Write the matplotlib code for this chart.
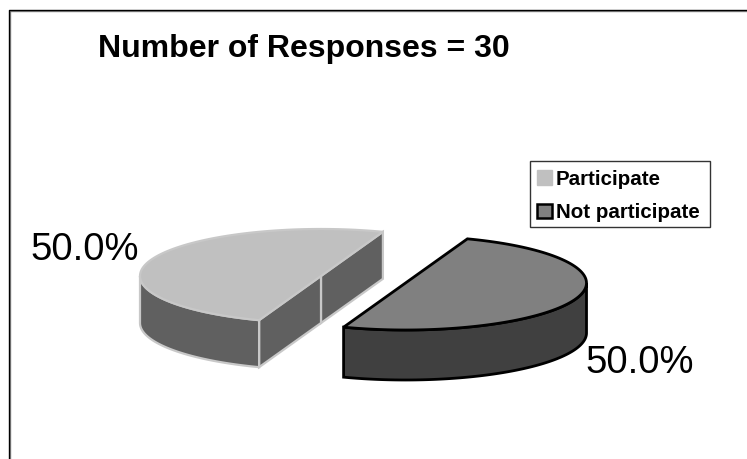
import numpy as np
import matplotlib
matplotlib.use("Agg")
import matplotlib.pyplot as plt
from matplotlib.patches import Polygon, Rectangle

plt.rcParams["font.family"] = ["Liberation Sans", "DejaVu Sans"]

labels = ["Participate", "Not participate"]
values = [15, 15]
title = "Number of Responses = 30"

top_colors = ["#c0c0c0", "#808080"]
side_colors = ["#606060", "#404040"]
edge_colors = ["#c8c8c8", "#000000"]
line_widths = [1.6, 2.0]
centers = [(321, 276), (405.5, 283)]
depths = [47, 50]
rx, ry = 181, 47

fig = plt.figure(figsize=(7.47, 4.59), dpi=100)
ax = fig.add_axes([0, 0, 1, 1])
ax.set_xlim(0, 747)
ax.set_ylim(459, 0)
ax.axis("off")

# рамка: только слева и сверху, снизу и справа она обрезана
ax.plot([9.5, 9.5, 747], [459, 10.5, 10.5], color="#888888", lw=1)
ax.plot([8.5, 8.5, 747], [459, 9.5, 9.5], color="black", lw=1)


def arc(cx, cy, a0, a1, n=100):
    t = np.radians(np.linspace(a0, a1, n))
    return np.column_stack([cx + rx * np.cos(t), cy - ry * np.sin(t)])


def draw_slice(cx, cy, a0, sweep, depth, top, side, edge, lw):
    a1 = a0 + sweep
    rim = arc(cx, cy, a0, a1)
    down = np.array([0, depth])
    mid = np.array([cx, cy])
    if a0 < 90:
        # левый кусок: срез виден, он идет от центра к обоим концам
        for p in (rim[0], rim[-1]):
            ax.add_patch(Polygon([mid, p, p + down, mid + down], fc=side, ec=edge, lw=lw))
        vis = arc(cx, cy, 180, a1)
    else:
        vis = arc(cx, cy, a0, 360)
    wall = np.vstack([vis, (vis + down)[::-1]])
    ax.add_patch(Polygon(wall, fc=side, ec=edge, lw=lw))
    ax.add_patch(Polygon(rim, fc=top, ec=edge, lw=lw))


total = sum(values)
start = 70
for i, val in enumerate(values):
    sweep = 360 * val / total
    draw_slice(centers[i][0], centers[i][1], start, sweep, depths[i],
               top_colors[i], side_colors[i], edge_colors[i], line_widths[i])
    start += sweep

pcts = ["%.1f%%" % (100 * v / total) for v in values]
ax.text(30, 260, pcts[0], fontsize=27.5, va="baseline", ha="left", color="black")
ax.text(585, 373, pcts[1], fontsize=27.5, va="baseline", ha="left", color="black")
ax.text(98, 57, title, fontsize=23, fontweight="bold", va="baseline", ha="left", color="black")

# легенда
ax.add_patch(Rectangle((530, 161), 180, 66, fc="white", ec="#333333", lw=1))
ax.add_patch(Rectangle((537, 170), 15, 15, fc=top_colors[0], ec=top_colors[0], lw=1))
ax.add_patch(Rectangle((537, 204), 15, 14, fc=top_colors[1], ec="black", lw=1.8))
ax.text(556, 185, labels[0], fontsize=14.8, fontweight="bold", va="baseline", ha="left")
ax.text(556, 218, labels[1], fontsize=14.8, fontweight="bold", va="baseline", ha="left")

fig.savefig("out.png", dpi=100)
